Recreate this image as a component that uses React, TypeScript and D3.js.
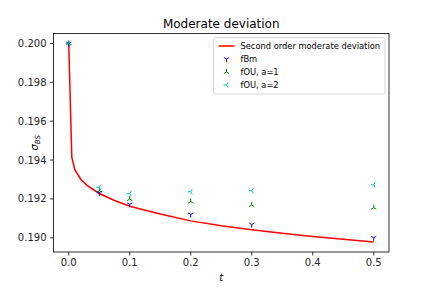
import * as d3 from "d3";

// second order moderate deviation curve
const curveT = [0, 0.005, 0.01, 0.02, 0.03, 0.05, 0.075, 0.1, 0.15, 0.2, 0.25, 0.3, 0.35, 0.4, 0.45, 0.5];
const curveSigma = [
  0.2, 0.19413, 0.1935, 0.193, 0.1927, 0.19228, 0.19192, 0.19162, 0.19122, 0.19087, 0.19062, 0.19041,
  0.19023, 0.19007, 0.18992, 0.18978,
];

// simulated points
const pointT = [0, 0.05, 0.1, 0.2, 0.3, 0.5];
const fbm = [0.2, 0.19232, 0.19172, 0.1912, 0.19068, 0.19];
const fou1 = [0.2, 0.19242, 0.19199, 0.19186, 0.19168, 0.19155];
const fou2 = [0.2, 0.1926, 0.19227, 0.19237, 0.19242, 0.19273];

const xTicks = [0, 0.1, 0.2, 0.3, 0.4, 0.5];
const yTicks = [0.19, 0.192, 0.194, 0.196, 0.198, 0.2];

const W = 432;
const H = 288;
const m = { left: 53.5, right: 389, top: 33.5, bottom: 252 };
const font = "DejaVu Sans, sans-serif";

type Kind = "down" | "up" | "left";

// matplotlib tri markers
const triPath = (kind: Kind, r: number) => {
  const a = 0.866 * r;
  const b = 0.5 * r;
  if (kind === "down") return `M0,0L0,${r}M0,0L${a},${-b}M0,0L${-a},${-b}`;
  if (kind === "up") return `M0,0L0,${-r}M0,0L${a},${b}M0,0L${-a},${b}`;
  return `M0,0L${-r},0M0,0L${b},${a}M0,0L${b},${-a}`;
};

const series = [
  { name: "fBm", values: fbm, color: "#0000ff", kind: "down" as Kind },
  { name: "fOU, a=1", values: fou1, color: "#008000", kind: "up" as Kind },
  { name: "fOU, a=2", values: fou2, color: "#00bfbf", kind: "left" as Kind },
];

export default function App() {
  const xMin = d3.min(curveT)!;
  const xMax = d3.max(curveT)!;
  const xPad = (xMax - xMin) * 0.05;
  const x = d3.scaleLinear().domain([xMin - xPad, xMax + xPad]).range([m.left, m.right]);

  const all = [...curveSigma, ...fbm, ...fou1, ...fou2];
  const yMin = d3.min(all)!;
  const yMax = d3.max(all)!;
  const yPad = (yMax - yMin) * 0.05;
  const y = d3.scaleLinear().domain([yMin - yPad, yMax + yPad]).range([m.bottom, m.top]);

  const line = d3
    .line<number>()
    .x((_, i) => x(curveT[i]))
    .y((d) => y(d));

  const legendRows = [
    { label: "Second order moderate deviation", color: "#ff0000", kind: null as Kind | null },
    ...series.map((s) => ({ label: s.name, color: s.color, kind: s.kind as Kind | null })),
  ];

  return (
    <svg
      width={W}
      height={H}
      style={{ position: "absolute", left: 0, top: 0, background: "#fff" }}
      fontFamily={font}
    >
      <rect width={W} height={H} fill="#fff" />
      <text x={(m.left + m.right) / 2} y={28} textAnchor="middle" fontSize={12} fill="#000">
        Moderate deviation
      </text>

      <path d={line(curveSigma) ?? ""} fill="none" stroke="#ff0000" strokeWidth={1.5} />

      {series.map((s) => (
        <g key={s.name}>
          {s.values.map((v, i) => (
            <path
              key={i}
              transform={`translate(${x(pointT[i])},${y(v)})`}
              d={triPath(s.kind, 3)}
              stroke={s.color}
              strokeWidth={1}
              fill="none"
            />
          ))}
        </g>
      ))}

      <rect
        x={m.left}
        y={m.top}
        width={m.right - m.left}
        height={m.bottom - m.top}
        fill="none"
        stroke="#000"
        strokeWidth={0.8}
      />

      {xTicks.map((t) => (
        <g key={t} transform={`translate(${x(t)},${m.bottom})`}>
          <line y2={3.5} stroke="#000" strokeWidth={0.8} />
          <text y={14} textAnchor="middle" fontSize={10} fill="#262626">
            {d3.format(".1f")(t)}
          </text>
        </g>
      ))}
      {yTicks.map((t) => (
        <g key={t} transform={`translate(${m.left},${y(t)})`}>
          <line x2={-3.5} stroke="#000" strokeWidth={0.8} />
          <text x={-7} dy="0.35em" textAnchor="end" fontSize={10} fill="#262626">
            {d3.format(".3f")(t)}
          </text>
        </g>
      ))}

      <text x={(m.left + m.right) / 2} y={281} textAnchor="middle" fontSize={10} fontStyle="italic">
        t
      </text>
      <text
        transform={`translate(38,${(m.top + m.bottom) / 2}) rotate(-90)`}
        textAnchor="middle"
        fontSize={10}
        fontStyle="italic"
      >
        σ
        <tspan fontSize={7} dy={2}>
          BS
        </tspan>
      </text>

      <g transform="translate(213.5,37.5)">
        <rect width={171.5} height={56.5} rx={2} fill="#fff" fillOpacity={0.8} stroke="#cccccc" strokeWidth={0.8} />
        {legendRows.map((r, i) => (
          <g key={r.label} transform={`translate(0,${8.5 + i * 13})`}>
            {r.kind === null ? (
              <line x1={5} x2={21} stroke={r.color} strokeWidth={1.5} />
            ) : (
              <path transform="translate(13,0)" d={triPath(r.kind, 3)} stroke={r.color} strokeWidth={1} fill="none" />
            )}
            <text x={27} dy="0.35em" fontSize={8.3} fill="#000">
              {r.label}
            </text>
          </g>
        ))}
      </g>
    </svg>
  );
}
